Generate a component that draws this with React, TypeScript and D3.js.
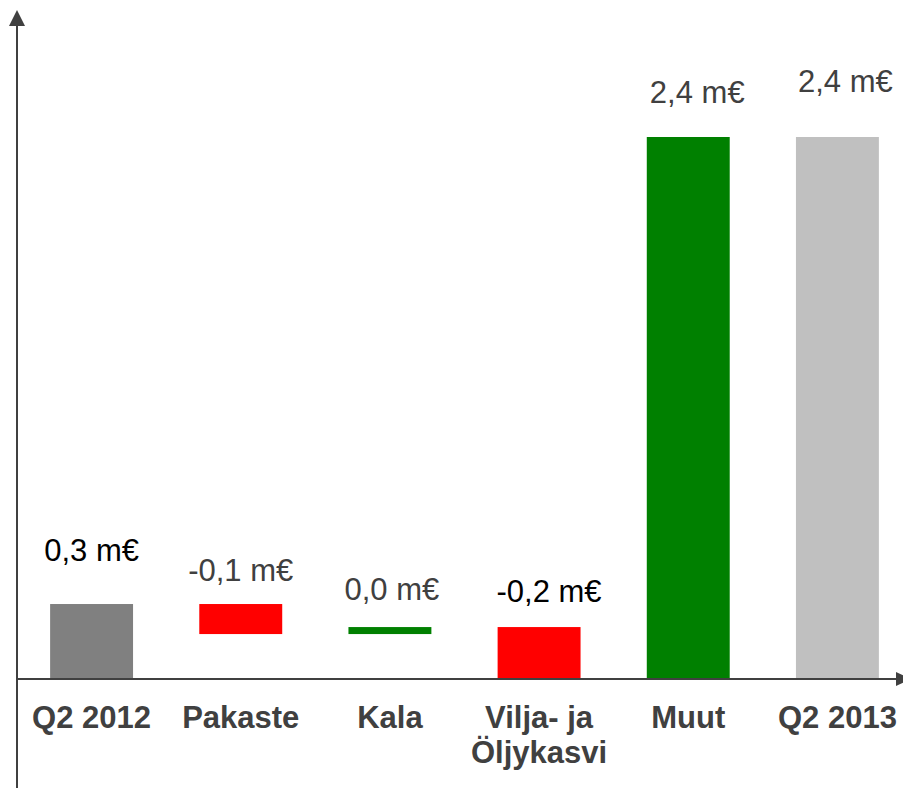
import React from 'react';
import * as d3 from 'd3';

// waterfall: each step runs from barStart to barEnd (m€)
const categories = [['Q2 2012'], ['Pakaste'], ['Kala'], ['Vilja- ja', 'Öljykasvi'], ['Muut'], ['Q2 2013']];
const barStart = [0, 0.332, 0.199, 0.23, 0, 0];
const barEnd = [0.332, 0.199, 0.23, 0, 2.4, 2.4];
const valueLabels = ['0,3 m€', '-0,1 m€', '0,0 m€', '-0,2 m€', '2,4 m€', '2,4 m€'];

const barColors = ['#808080', '#ff0000', '#008000', '#ff0000', '#008000', '#c0c0c0'];
const labelColors = ['#000000', '#404040', '#404040', '#000000', '#404040', '#404040'];
// gap above bar top and horizontal nudge, as placed in the original
const labelGap = [43, 23, 27, 25, 34, 45];
const labelShift = [0, 0, 2, 10, 9, 8];

const width = 903;
const height = 788;
const axisX = 17;
const baseY = 679;
const axisColor = '#404040';
const font = '"Liberation Sans", Arial, sans-serif';

export default function App() {
  const idx = d3.range(categories.length);

  const x = d3.scaleBand<number>()
    .domain(idx)
    .range([axisX, 912])
    .paddingInner(0.444)
    .paddingOuter(0.222);

  const y = d3.scaleLinear()
    .domain([0, 2.4])
    .range([baseY, 137]);

  return (
    <svg width={width} height={height} style={{ position: 'absolute', left: 0, top: 0, display: 'block' }}>
      <rect width={width} height={height} fill="#ffffff" />

      {idx.map(i => {
        const top = y(Math.max(barStart[i], barEnd[i]));
        const bottom = y(Math.min(barStart[i], barEnd[i]));
        return (
          <rect key={'b' + i} x={x(i)} y={top} width={x.bandwidth()} height={bottom - top} fill={barColors[i]} />
        );
      })}

      {idx.map(i => {
        const top = y(Math.max(barStart[i], barEnd[i]));
        return (
          <text key={'v' + i}
            x={x(i)! + x.bandwidth() / 2 + labelShift[i]}
            y={top - labelGap[i]}
            textAnchor="middle"
            fontFamily={font}
            fontSize={31}
            fill={labelColors[i]}>
            {valueLabels[i]}
          </text>
        );
      })}

      {/* axes */}
      <line x1={axisX} y1={20} x2={axisX} y2={height} stroke={axisColor} strokeWidth={2} />
      <path d={`M${axisX},10 L${axisX + 8},26 L${axisX - 8},26 Z`} fill={axisColor} />
      <line x1={axisX} y1={baseY} x2={898} y2={baseY} stroke={axisColor} strokeWidth={2} />
      <path d={`M911,${baseY} L896,${baseY - 7} L896,${baseY + 7} Z`} fill={axisColor} />

      {idx.map(i => (
        <text key={'c' + i}
          x={x(i)! + x.bandwidth() / 2}
          y={728}
          textAnchor="middle"
          fontFamily={font}
          fontWeight="bold"
          fontSize={31}
          fill={axisColor}>
          {categories[i].map((line, j) => (
            <tspan key={j} x={x(i)! + x.bandwidth() / 2} dy={j === 0 ? 0 : 35}>{line}</tspan>
          ))}
        </text>
      ))}
    </svg>
  );
}
